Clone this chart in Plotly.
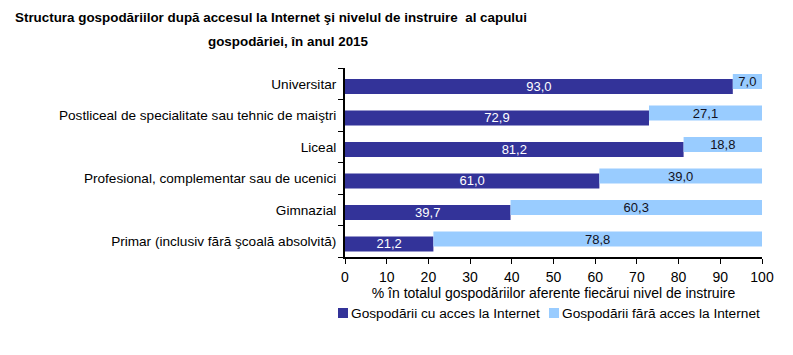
import plotly.graph_objects as go

categories = [
    "Universitar",
    "Postliceal de specialitate sau tehnic de maiştri",
    "Liceal",
    "Profesional, complementar sau de ucenici",
    "Gimnazial",
    "Primar (inclusiv fără şcoală absolvită)",
]
with_internet = [93.0, 72.9, 81.2, 61.0, 39.7, 21.2]
without_internet = [7.0, 27.1, 18.8, 39.0, 60.3, 78.8]
x_ticks = [0, 10, 20, 30, 40, 50, 60, 70, 80, 90, 100]

series_names = ["Gospodării cu acces la Internet", "Gospodării fără acces la Internet"]
title_line1 = "Structura gospodăriilor după accesul la Internet şi nivelul de instruire  al capului"
title_line2 = "gospodăriei, în anul 2015"
x_title = "% în totalul gospodăriilor aferente fiecărui nivel de instruire"

DARK = "#333399"
LIGHT = "#99CCFF"
COLORS = [DARK, LIGHT]
FONT = "Liberation Sans, Arial, sans-serif"

# page body has an 8px default margin; compensate so the figure fills the window
PAD = 8
W, H = 793 - PAD, 355 - PAD
ML, MR, MT, MB = 345 - PAD, 31, 68 - PAD, 98
PW, PH = W - ML - MR, H - MT - MB


def fmt(v):
    return f"{v:.1f}".replace(".", ",")


def px_x(px):
    return (px - PAD - ML) / PW


def px_y(py):
    return 1 - (py - PAD - MT) / PH


fig = go.Figure()
fig.add_trace(go.Bar(
    y=categories, x=with_internet, orientation="h", name=series_names[0],
    marker=dict(color=DARK, line=dict(width=0)),
    width=0.476, offset=-0.325,
    text=[fmt(v) for v in with_internet], textposition="inside",
    insidetextanchor="middle", constraintext="none",
    textfont=dict(color="white", size=13, family=FONT),
    hoverinfo="skip",
))
fig.add_trace(go.Bar(
    y=categories, x=without_internet, base=with_internet, orientation="h",
    name=series_names[1],
    marker=dict(color=LIGHT, line=dict(width=0)),
    width=0.476, offset=-0.167,
    text=[fmt(v) for v in without_internet], textposition="inside",
    insidetextanchor="middle", constraintext="none",
    textfont=dict(color="#111122", size=13, family=FONT),
    hoverinfo="skip",
))

TITLE_FONT = dict(family=FONT, size=13.4, color="black", weight="bold")

# legend drawn as squares + text (keeps the tight symbol/text spacing of the original)
legend_shapes = []
legend_annots = []
legend_x = [338, 549]
for i, name in enumerate(series_names):
    x0 = legend_x[i]
    legend_shapes.append(dict(
        type="rect", xref="paper", yref="paper",
        x0=px_x(x0), x1=px_x(x0 + 10), y0=px_y(318), y1=px_y(308),
        fillcolor=COLORS[i], line=dict(width=0),
    ))
    legend_annots.append(dict(
        text=name, xref="paper", yref="paper", x=px_x(x0 + 11), y=px_y(313),
        xanchor="left", yanchor="middle", showarrow=False,
        font=dict(size=13.7, family=FONT, color="black"),
    ))

fig.update_layout(
    width=W, height=H,
    margin=dict(l=ML, r=MR, t=MT, b=MB, autoexpand=False),
    paper_bgcolor="white", plot_bgcolor="white",
    barmode="overlay",
    font=dict(family=FONT, size=13, color="black"),
    showlegend=False,
    xaxis=dict(
        range=[0, 100], tickvals=x_ticks, ticks="outside", ticklen=5,
        tickcolor="black", showline=True, linecolor="black", linewidth=2,
        showgrid=False, zeroline=False, fixedrange=True,
        tickfont=dict(size=14, family=FONT, color="black"),
        ticklabelstandoff=1,
        title=dict(text=x_title, font=dict(size=14, family=FONT, color="black"), standoff=4),
    ),
    yaxis=dict(
        categoryorder="array", categoryarray=categories[::-1],
        ticks="outside", ticklen=5, tickson="boundaries", tickcolor="black",
        showline=True, linecolor="black", linewidth=2, showgrid=False,
        zeroline=False, fixedrange=True,
        tickfont=dict(size=13.6, family=FONT, color="black"),
        ticklabelstandoff=4,
    ),
    shapes=legend_shapes,
    annotations=[
        dict(text=title_line1, xref="paper", yref="paper", x=px_x(13), y=px_y(18),
             xanchor="left", yanchor="middle", showarrow=False, font=TITLE_FONT),
        dict(text=title_line2, xref="paper", yref="paper", x=px_x(288), y=px_y(41),
             xanchor="center", yanchor="middle", showarrow=False, font=TITLE_FONT),
    ] + legend_annots,
)

fig.write_html("out.html")
